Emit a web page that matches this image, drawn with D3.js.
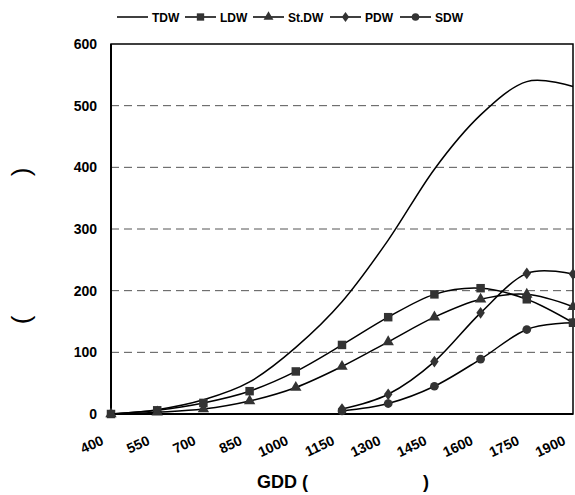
<!DOCTYPE html>
<html>
<head>
<meta charset="utf-8">
<script src="https://cdn.jsdelivr.net/npm/d3@7"></script>
<style>
body{margin:0;background:#fff;}
text{font-family:"Liberation Sans",Arial,sans-serif;}
</style>
</head>
<body>
<svg id="c" width="575" height="495"></svg>
<script>
const gdd = [400, 550, 700, 850, 1000, 1150, 1300, 1450, 1600, 1750, 1900];
const xTicks = [400, 550, 700, 850, 1000, 1150, 1300, 1450, 1600, 1750, 1900];
const yTicks = [0, 100, 200, 300, 400, 500, 600];
const TDW  = [0, 7, 23, 52, 108, 182, 282, 397, 485, 539, 531];
const LDW  = [0, 6, 18, 37, 69, 112, 157, 194, 204, 186, 148];
const StDW = [0, 3, 8, 21, 43, 77, 117, 157, 186, 194, 174];
const PDW  = [null, null, null, null, null, 8, 32, 85, 164, 228, 227];
const SDW  = [null, null, null, null, null, 5, 17, 45, 89, 137, 148];
const seriesNames = ["TDW", "LDW", "St.DW", "PDW", "SDW"];
const seriesValues = [TDW, LDW, StDW, PDW, SDW];
const markers = [null, "square", "triangle", "diamond", "circle"];

const svg = d3.select("#c");
const L = 111, R = 573, T = 44, B = 414;
const x = d3.scaleLinear().domain([400, 1900]).range([L, R]);
const y = d3.scaleLinear().domain([0, 600]).range([B, T]);

// gridlines
svg.append("g").selectAll("line").data(yTicks.filter(d => d > 0 && d < 600)).join("line")
  .attr("x1", L).attr("x2", R).attr("y1", d => y(d)).attr("y2", d => y(d))
  .attr("stroke", "#555").attr("stroke-width", 1).attr("stroke-dasharray", "8,5");

// y axis
const yAxis = svg.append("g").attr("transform", `translate(${L},0)`)
  .call(d3.axisLeft(y).tickValues(yTicks).tickSize(0).tickPadding(14));
yAxis.select(".domain").remove();
yAxis.selectAll("text").attr("font-size", 14).attr("font-weight", "bold").attr("fill", "#000")
  .attr("font-family", "Liberation Sans, Arial, sans-serif");

// x axis
const xAxis = svg.append("g").attr("transform", `translate(0,${B})`)
  .call(d3.axisBottom(x).tickValues(xTicks).tickSize(0).tickFormat(d3.format("d")));
xAxis.select(".domain").remove();
xAxis.selectAll("text").attr("font-size", 14).attr("font-weight", "bold").attr("fill", "#000")
  .attr("font-family", "Liberation Sans, Arial, sans-serif")
  .attr("text-anchor", "end")
  .attr("dy", 0).attr("y", 0)
  .attr("transform", "translate(-7,30) rotate(-25)");

// frame
svg.append("rect").attr("x", L).attr("y", T).attr("width", R - L).attr("height", B - T)
  .attr("fill", "none").attr("stroke", "#000").attr("stroke-width", 1.5);
svg.append("line").attr("x1", L).attr("x2", L).attr("y1", T).attr("y2", B).attr("stroke", "#000").attr("stroke-width", 2);
svg.append("line").attr("x1", L).attr("x2", R).attr("y1", B).attr("y2", B).attr("stroke", "#000").attr("stroke-width", 2);

const line = d3.line().defined(d => d[1] != null)
  .x(d => x(d[0])).y(d => y(d[1])).curve(d3.curveCardinal.tension(0));

const symType = {square: d3.symbolSquare, triangle: d3.symbolTriangle, diamond: d3.symbolDiamond, circle: d3.symbolCircle};
const symSize = {square: 72, triangle: 56, diamond: 40, circle: 60};

function drawMarker(g, m, cx, cy, scale) {
  if (!m) return;
  let s = symSize[m] * (scale || 1);
  let p = g.append("path").attr("d", d3.symbol().type(symType[m]).size(s)())
    .attr("fill", "#333").attr("stroke", "none");
  if (m === "diamond") p.attr("transform", `translate(${cx},${cy}) scale(1.25,1)`);
  else p.attr("transform", `translate(${cx},${cy})`);
}

seriesValues.forEach((vals, i) => {
  const pts = gdd.map((g, j) => [g, vals[j]]);
  svg.append("path").datum(pts).attr("d", line)
    .attr("fill", "none").attr("stroke", "#000").attr("stroke-width", 1.5);
  const g = svg.append("g");
  pts.filter(d => d[1] != null).forEach(d => drawMarker(g, markers[i], x(d[0]), y(d[1])));
});

// legend
const legendX = [117, 185, 253, 330, 400];
const lg = svg.append("g");
seriesNames.forEach((n, i) => {
  const lx = legendX[i], ly = 17;
  lg.append("line").attr("x1", lx).attr("x2", lx + 31).attr("y1", ly).attr("y2", ly)
    .attr("stroke", "#000").attr("stroke-width", 1.5);
  drawMarker(lg, markers[i], lx + 15.5, ly, 0.75);
  lg.append("text").attr("x", lx + 35).attr("y", ly + 4.5).text(n)
    .attr("font-size", 12).attr("font-weight", "bold");
});

// axis titles
svg.append("text").attr("x", 257).attr("y", 488).text("GDD (")
  .attr("font-size", 18).attr("font-weight", "bold");
svg.append("text").attr("x", 423).attr("y", 488).text(")")
  .attr("font-size", 18).attr("font-weight", "bold");
svg.append("text").attr("transform", "translate(30,320) rotate(-90)").attr("text-anchor", "middle")
  .text("(").attr("font-size", 26);
svg.append("text").attr("transform", "translate(30,172) rotate(-90)").attr("text-anchor", "middle")
  .text(")").attr("font-size", 26);
</script>
</body>
</html>
